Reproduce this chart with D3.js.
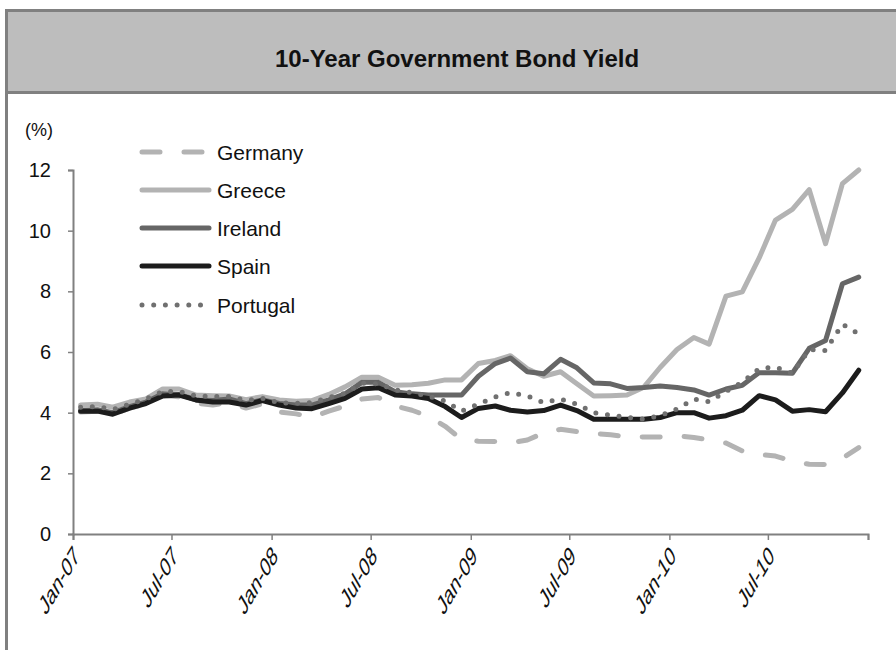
<!DOCTYPE html>
<html>
<head>
<meta charset="utf-8">
<script src="https://cdn.jsdelivr.net/npm/d3@7"></script>
<style>
  html, body { margin: 0; padding: 0; background: #fff; }
  svg { display: block; font-family: "Liberation Sans", Arial, sans-serif; }
</style>
</head>
<body>
<svg id="chart" width="896" height="650"></svg>
<script>
// ---- data (monthly averages, %) ----
const months = [
  "2007-01","2007-02","2007-03","2007-04","2007-05","2007-06","2007-07","2007-08","2007-09","2007-10","2007-11","2007-12",
  "2008-01","2008-02","2008-03","2008-04","2008-05","2008-06","2008-07","2008-08","2008-09","2008-10","2008-11","2008-12",
  "2009-01","2009-02","2009-03","2009-04","2009-05","2009-06","2009-07","2009-08","2009-09","2009-10","2009-11","2009-12",
  "2010-01","2010-02","2010-03","2010-04","2010-05","2010-06","2010-07","2010-08","2010-09","2010-10","2010-11","2010-12"
];
const germany = [
  4.02,4.05,3.94,4.15,4.29,4.57,4.52,4.31,4.25,4.34,4.15,4.29,
  4.02,3.96,3.85,4.05,4.22,4.45,4.50,4.22,4.08,3.88,3.55,3.12,
  3.06,3.05,3.00,3.10,3.33,3.45,3.38,3.32,3.27,3.21,3.20,3.20,
  3.24,3.18,3.10,3.00,2.74,2.62,2.57,2.40,2.30,2.29,2.50,2.85
];
const greece = [
  4.25,4.28,4.18,4.35,4.45,4.78,4.78,4.58,4.56,4.55,4.43,4.53,
  4.42,4.38,4.40,4.60,4.85,5.17,5.17,4.90,4.92,4.97,5.08,5.08,
  5.62,5.72,5.88,5.45,5.20,5.35,4.95,4.55,4.56,4.58,4.84,5.49,
  6.08,6.48,6.26,7.84,7.98,9.10,10.35,10.70,11.35,9.57,11.55,12.00
];
const ireland = [
  4.08,4.10,4.00,4.20,4.35,4.62,4.60,4.42,4.40,4.45,4.30,4.42,
  4.30,4.25,4.25,4.42,4.62,5.00,5.00,4.69,4.62,4.58,4.58,4.58,
  5.20,5.62,5.80,5.35,5.28,5.76,5.48,4.98,4.95,4.80,4.83,4.88,
  4.83,4.75,4.58,4.78,4.90,5.32,5.32,5.30,6.12,6.38,8.25,8.47
];
const spain = [
  4.05,4.05,3.95,4.15,4.30,4.55,4.58,4.42,4.35,4.35,4.25,4.40,
  4.25,4.15,4.13,4.30,4.47,4.78,4.82,4.58,4.55,4.47,4.20,3.84,
  4.14,4.22,4.08,4.02,4.07,4.25,4.07,3.78,3.78,3.78,3.78,3.84,
  4.00,4.00,3.82,3.90,4.08,4.56,4.42,4.05,4.10,4.03,4.65,5.40
];
const portugal = [
  4.18,4.20,4.10,4.28,4.45,4.70,4.70,4.55,4.53,4.53,4.40,4.47,
  4.33,4.31,4.33,4.50,4.64,4.97,4.95,4.75,4.66,4.55,4.38,4.05,
  4.28,4.52,4.66,4.55,4.33,4.45,4.28,4.00,3.92,3.84,3.79,3.90,
  4.12,4.45,4.36,4.70,5.00,5.45,5.50,5.30,6.08,6.05,6.92,6.60
];
const seriesNames = ["Germany","Greece","Ireland","Spain","Portugal"];
const yTicks = [0, 2, 4, 6, 8, 10, 12];
const xTickLabels = ["Jan-07","Jul-07","Jan-08","Jul-08","Jan-09","Jul-09","Jan-10","Jul-10",""];
const titleText = "10-Year Government Bond Yield";
const unitText = "(%)";

// ---- styles ----
const styles = {
  Germany:  { color: "#b3b3b3", dash: "18,24" },
  Greece:   { color: "#b3b3b3", dash: null },
  Ireland:  { color: "#666666", dash: null },
  Spain:    { color: "#1c1c1c", dash: null },
  Portugal: { color: "#707070", dash: "0,11.7" }
};
const seriesData = { Germany: germany, Greece: greece, Ireland: ireland, Spain: spain, Portugal: portugal };

const svg = d3.select("#chart");
const W = 896, H = 650;
svg.append("rect").attr("width", W).attr("height", H).attr("fill", "#fff");

// frame & title box
svg.append("line").attr("x1", 6.5).attr("x2", 6.5).attr("y1", 92).attr("y2", 652)
  .attr("stroke", "#808080").attr("stroke-width", 3);
svg.append("rect").attr("x", 6.5).attr("y", 10.5).attr("width", 900).attr("height", 82)
  .attr("fill", "#bdbdbd").attr("stroke", "#808080").attr("stroke-width", 3);
svg.append("text").attr("x", 457).attr("y", 58).attr("text-anchor", "middle")
  .attr("dominant-baseline", "central")
  .attr("font-size", 24).attr("font-weight", "bold").attr("fill", "#111")
  .text(titleText);

// scales
const parse = d3.timeParse("%Y-%m");
const dates = months.map(m => d3.timeDay.offset(parse(m), 14));
const x = d3.scaleTime().domain([new Date(2007, 0, 1), new Date(2011, 0, 1)]).range([73, 868]);
const y = d3.scaleLinear().domain([0, 12]).range([534, 170]);

// axes
const tickDates = d3.timeMonth.every(6).range(new Date(2007, 0, 1), new Date(2011, 0, 2));
const xAxis = d3.axisBottom(x).tickValues(tickDates).tickSize(6).tickFormat((d, i) => xTickLabels[i]);
const gx = svg.append("g").attr("transform", "translate(0,534)").call(xAxis);
gx.select(".domain").attr("stroke", "#808080").attr("stroke-width", 2);
gx.selectAll(".tick line").attr("stroke", "#808080").attr("stroke-width", 1.5);
gx.selectAll(".tick text")
  .attr("font-size", 16).attr("fill", "#111").attr("font-family", "Liberation Sans, Arial, sans-serif")
  .attr("text-anchor", "end").attr("dy", null).attr("y", null)
  .attr("dominant-baseline", "central")
  .attr("transform", "translate(3,17) scale(1,1.7) rotate(-45)");

const yAxis = d3.axisLeft(y).tickValues(yTicks).tickSize(5).tickPadding(17).tickFormat(d3.format("d"));
const gy = svg.append("g").attr("transform", "translate(73,0)").call(yAxis);
gy.select(".domain").attr("stroke", "#808080").attr("stroke-width", 2);
gy.selectAll(".tick line").attr("stroke", "#808080").attr("stroke-width", 1.5);
gy.selectAll(".tick text").attr("font-size", 20).attr("fill", "#111")
  .attr("font-family", "Liberation Sans, Arial, sans-serif");

svg.append("text").attr("x", 25).attr("y", 130).attr("dominant-baseline", "central")
  .attr("font-size", 18).attr("fill", "#111").text(unitText);

// lines
const line = d3.line().x((d, i) => x(dates[i])).y(d => y(d));
seriesNames.forEach(name => {
  const st = styles[name];
  svg.append("path").datum(seriesData[name])
    .attr("d", line)
    .attr("fill", "none")
    .attr("stroke", st.color)
    .attr("stroke-width", 5)
    .attr("stroke-linejoin", "round")
    .attr("stroke-linecap", "round")
    .attr("stroke-dasharray", st.dash);
});

// legend
const legendY = [152, 190, 228, 266, 305];
seriesNames.forEach((name, k) => {
  const st = styles[name];
  const g = svg.append("g");
  g.append("line").attr("x1", 142).attr("x2", 209)
    .attr("y1", legendY[k]).attr("y2", legendY[k])
    .attr("stroke", st.color).attr("stroke-width", 5)
    .attr("stroke-linecap", "round")
    .attr("stroke-dasharray", st.dash);
  g.append("text").attr("x", 217).attr("y", legendY[k]).attr("dominant-baseline", "central")
    .attr("font-size", 21).attr("fill", "#111").text(name);
});
</script>
</body>
</html>
